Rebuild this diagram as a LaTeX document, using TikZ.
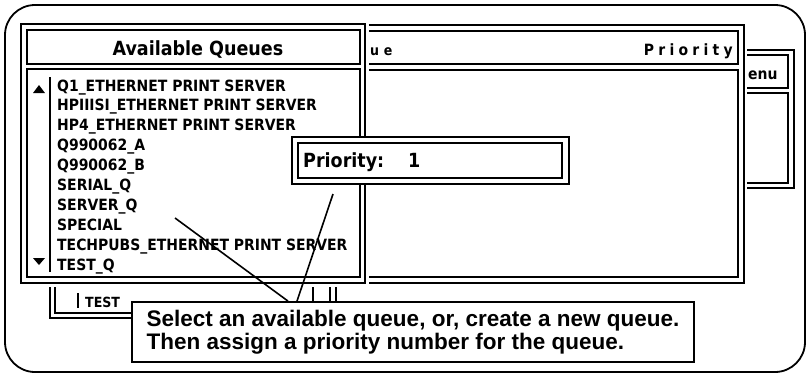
\documentclass[tikz,border=0pt]{standalone}
\usepackage{fontspec}
\setmainfont{Liberation Sans}
\newfontfamily\macfont{DejaVu Sans Condensed}
\usetikzlibrary{positioning}

\begin{document}
\begin{tikzpicture}[x=1pt, y=-1pt,
frame/.style = {draw, line width=1.8pt},
item/.style = {anchor=base west, inner sep=0pt,
  font=\macfont\bfseries\fontsize{15.5}{17}\selectfont},
small/.style = {item, font=\macfont\bfseries\fontsize{14}{16}\selectfont},
title/.style = {item, font=\macfont\bfseries\fontsize{19.5}{21}\selectfont},
note/.style = {% callout box
draw, line width=1.8pt, fill=white, inner sep=0pt,
minimum width=562pt, minimum height=60pt, align=left,
font=\bfseries\fontsize{22.5}{23}\selectfont},
pointer/.style = {line width=1.6pt}]
\useasboundingbox (0,0) rectangle (810,375);
% screen
\draw[line width=1.8pt, rounded corners=30pt] (5,5) rectangle (805,372);
% menu window (behind)
\draw[frame] (600,50) rectangle (794,188);
\draw[frame] (606,55) rectangle (788,88);
\draw[frame] (606,93) rectangle (788,183);
\node[item] (menu) at (748,79) {enu};
% queue / priority window
\fill[white] (296,21) rectangle (747,287);
\draw[frame] (300,25) rectangle (744,283);
\draw[frame] (306,31) rectangle (738,64);
\draw[frame] (306,70) rectangle (738,277);
\node[small] (queue) at (370,55) {u\,\,e};
\node[item, anchor=base east] (prio) at (733,55) {P\;r\;i\;o\;r\;i\;t\;y};
% test window
\fill[white] (46,240) rectangle (340,322);
\draw[frame] (50,240) rectangle (336,318);
\draw[frame] (55,240) rectangle (330,313);
\draw[frame] (313,240) -- (313,313);
\draw[frame] (78,293) -- (78,308);
\node[small] (test) at (85,307) {TEST};
% available queues window
\fill[white] (17,20) rectangle (369,287);
\draw[frame] (21,24) rectangle (365,283);
\draw[frame] (27,30) rectangle (360,64);
\draw[frame] (27,69) rectangle (360,277);
\node[title, anchor=base] (avail) at (198,55) {Available Queues};
\draw[frame] (50,77) -- (50,272);
\fill (33,93) -- (45,93) -- (39,85) -- cycle;
\fill (33,258) -- (45,258) -- (39,265) -- cycle;
\foreach \name [count=\i from 0] in {Q1\_ETHERNET PRINT SERVER,
  HPIIISI\_ETHERNET PRINT SERVER, HP4\_ETHERNET PRINT SERVER,
  Q990062\_A, Q990062\_B, SERIAL\_Q, SERVER\_Q, SPECIAL,
  TECHPUBS\_ETHERNET PRINT SERVER, TEST\_Q}
  \node[item] (q\i) at (57,91+19.9*\i) {\name};
% priority dialog
\fill[white] (292,137) rectangle (569,184);
\draw[frame] (292,137) rectangle (569,184);
\draw[frame] (298,143) rectangle (562,178);
\node[title] (plabel) at (303,167) {Priority:};
\node[title] (pvalue) at (408,167) {1};
% callout
\node[note] (note) at (413,332) {Select an available queue, or, create a new queue.\\
Then assign a priority number for the queue.};
\coordinate (selq) at (175,218);
\coordinate (selp) at (333,194);
\draw[pointer] (selq) -- ([xshift=-125pt]note.north);
\draw[pointer] (selp) -- ([xshift=-116pt]note.north);
\end{tikzpicture}
\end{document}
